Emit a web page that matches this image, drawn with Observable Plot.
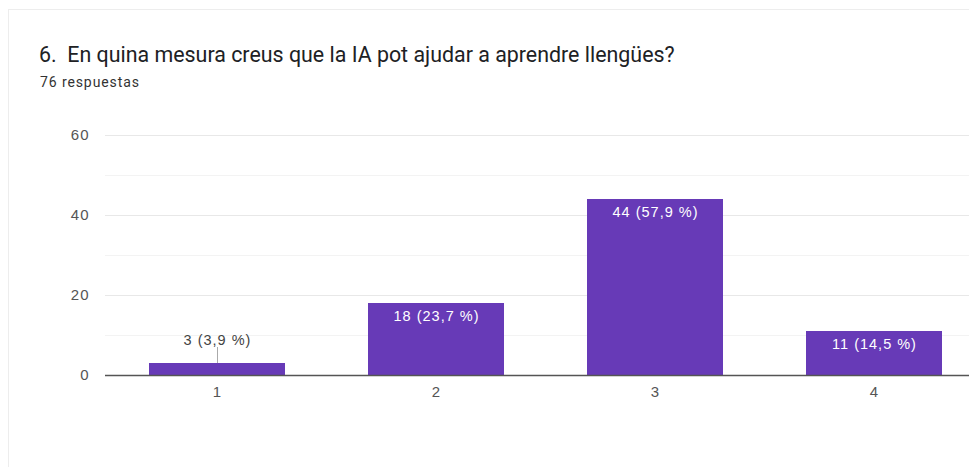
<!DOCTYPE html>
<html>
<head>
<meta charset="utf-8">
<script src="https://cdn.jsdelivr.net/npm/d3@7"></script>
<script src="https://cdn.jsdelivr.net/npm/@observablehq/plot@0.6"></script>
<style>
  html, body { margin: 0; padding: 0; background: #fff; overflow: hidden; }
  body { width: 969px; height: 467px; position: relative; font-family: Roboto, "Noto Sans", sans-serif; }
  #card { position: absolute; left: 8px; top: 9px; width: 2000px; height: 1000px; border: 1px solid #ededed; box-sizing: border-box; }
  #title { position: absolute; left: 39px; top: 43px; font-size: 21.4px; line-height: 24px; color: #202124; white-space: pre; }
  #subtitle { position: absolute; left: 40px; top: 74px; font-size: 14px; line-height: 16px; letter-spacing: 0.9px; color: #333; }
  #chart { position: absolute; left: 0; top: 100px; }
</style>
</head>
<body>
<div id="card"></div>
<div id="title"></div>
<div id="subtitle"></div>
<div id="chart"></div>
<script>
const titleText = "6.  En quina mesura creus que la IA pot ajudar a aprendre llengües?";
const subtitleText = "76 respuestas";
const categories = ["1", "2", "3", "4"];
const counts = [3, 18, 44, 11];
const percents = [3.9, 23.7, 57.9, 14.5];
const yTicks = [0, 20, 40, 60];
const yMinorTicks = [10, 30, 50];

document.getElementById("title").textContent = titleText;
document.getElementById("subtitle").textContent = subtitleText;

const data = categories.map((c, i) => ({
  cat: c,
  value: counts[i],
  label: `${counts[i]} (${percents[i].toFixed(1).replace(".", ",")} %)`,
  inside: counts[i] >= 5
}));

const chart = Plot.plot({
  width: 969,
  height: 320,
  marginLeft: 105,
  marginRight: 0,
  marginTop: 35,
  marginBottom: 45,
  style: { fontFamily: "'Liberation Sans', Arial, sans-serif", fontSize: "14.5px", letterSpacing: "1px", color: "#444", background: "transparent" },
  x: { domain: categories, range: [107, 983], paddingInner: 0.38, paddingOuter: 0.19, label: null },
  y: { domain: [0, 60], label: null },
  marks: [
    Plot.ruleY(yMinorTicks, { stroke: "#f3f3f3", strokeWidth: 1 }),
    Plot.ruleY(yTicks.filter(d => d > 0), { stroke: "#e8e8e8", strokeWidth: 1 }),
    Plot.ruleX([0], { x: () => null, frameAnchor: "left", y1: 0, y2: 60, stroke: "#ededed" }),
    Plot.barY(data, { x: "cat", y: "value", fill: "#673ab7" }),
    Plot.ruleX(data.filter(d => !d.inside), { x: "cat", y1: "value", y2: d => d.value + 4, stroke: "#aaa", strokeWidth: 1 }),
    Plot.text(data.filter(d => !d.inside), { x: "cat", y: "value", text: "label", dy: -23, fill: "#444", fontSize: 14.5 }),
    Plot.text(data.filter(d => d.inside), { x: "cat", y: "value", text: "label", dy: 12.5, fill: "#fff", fontSize: 14.5 }),
    Plot.ruleY([0], { stroke: "#555", strokeWidth: 1.4 }),
    Plot.axisY(yTicks, { tickSize: 0, tickPadding: 16, fill: "#555", fontSize: 15, label: null }),
    Plot.axisX({ tickSize: 0, tickPadding: 11, fill: "#555", fontSize: 15, label: null })
  ]
});
document.getElementById("chart").appendChild(chart);
</script>
</body>
</html>
